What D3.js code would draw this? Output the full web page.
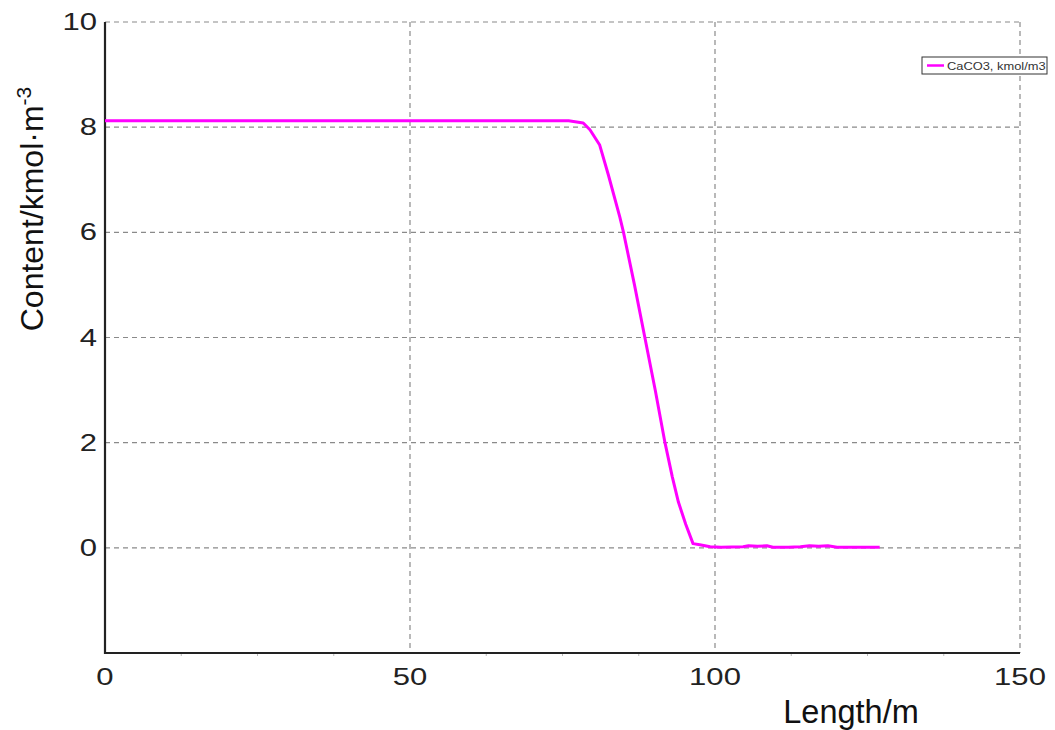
<!DOCTYPE html>
<html><head><meta charset="utf-8">
<script src="https://cdn.jsdelivr.net/npm/d3@7"></script>
<style>body{margin:0;background:#fff;}svg{display:block;font-family:Arial,"Liberation Sans",sans-serif;}</style>
</head><body><svg id="c" width="1055" height="730"></svg>
<script>
const xValues = [0, 10, 20, 30, 40, 50, 60, 70, 76, 78.4, 79.5, 81.1, 82.5, 84.4, 85, 86.8, 88.5, 90.2, 91.8, 93, 94, 95.2, 96.4, 97.5, 99.2, 101, 104.6, 105.5, 107, 108.5, 109.5, 112, 114, 115.5, 117, 118.5, 120, 124, 127];
const yValues = [8.12, 8.12, 8.12, 8.12, 8.12, 8.12, 8.12, 8.12, 8.12, 8.08, 7.95, 7.66, 7.1, 6.29, 6.0, 5.0, 4.0, 3.0, 2.0, 1.35, 0.87, 0.45, 0.08, 0.06, 0.02, 0.01, 0.02, 0.04, 0.03, 0.04, 0.01, 0.01, 0.02, 0.04, 0.03, 0.04, 0.01, 0.01, 0.01];
const xTicks = [0, 50, 100, 150];
const xMinorTicks = [12.5, 25, 37.5, 62.5, 75, 87.5, 112.5, 125, 137.5];
const yTicks = [0, 2, 4, 6, 8, 10];
const seriesName = "CaCO3, kmol/m3";

const svg = d3.select("#c");
const L = 105, R = 1020, T = 22, B = 653;
const x = d3.scaleLinear().domain([0, 150]).range([L, R]);
const y = d3.scaleLinear().domain([-2, 10]).range([B, T]);
const SX = 1.35;

// grid
svg.append("g").selectAll("line").data(yTicks).join("line")
  .attr("x1", L).attr("x2", R).attr("y1", d => y(d)).attr("y2", d => y(d))
  .attr("stroke", "#8a8a8a").attr("stroke-width", 1.2).attr("stroke-dasharray", "5,4");
svg.append("g").selectAll("line").data(xTicks.filter(d => d > 0)).join("line")
  .attr("x1", d => x(d)).attr("x2", d => x(d)).attr("y1", T).attr("y2", B)
  .attr("stroke", "#8a8a8a").attr("stroke-width", 1.2).attr("stroke-dasharray", "5,4");

// minor ticks
svg.append("g").selectAll("line").data(xMinorTicks).join("line")
  .attr("x1", d => x(d)).attr("x2", d => x(d)).attr("y1", B).attr("y2", B + 3)
  .attr("stroke", "#bbb").attr("stroke-width", 1);

// axes lines
svg.append("line").attr("x1", L).attr("x2", L).attr("y1", T).attr("y2", B + 1)
  .attr("stroke", "#222").attr("stroke-width", 2.2);
svg.append("line").attr("x1", L - 1).attr("x2", R).attr("y1", B).attr("y2", B)
  .attr("stroke", "#222").attr("stroke-width", 2.2);

// tick labels (horizontally stretched as in reference)
svg.append("g").selectAll("text").data(yTicks).join("text")
  .attr("transform", d => `translate(${L - 8},${y(d) + 8}) scale(${SX},1)`)
  .attr("text-anchor", "end")
  .attr("font-size", 23).attr("fill", "#222").text(d => d);
svg.append("g").selectAll("text").data(xTicks).join("text")
  .attr("transform", d => `translate(${x(d)},${B + 32}) scale(${SX},1)`)
  .attr("text-anchor", "middle")
  .attr("font-size", 23).attr("fill", "#222").text(d => d);

// axis titles
svg.append("text").attr("x", 851).attr("y", 723).attr("text-anchor", "middle")
  .attr("font-size", 32.5).attr("fill", "#111").text("Length/m");
const yt = svg.append("text").attr("transform", "translate(43,209) rotate(-90)")
  .attr("text-anchor", "middle").attr("font-size", 32).attr("fill", "#111");
yt.append("tspan").text("Content/kmol·m");
yt.append("tspan").attr("font-size", 21).attr("dy", -12).text("-3");

// line
const line = d3.line().x((d, i) => x(xValues[i])).y(d => y(d));
svg.append("path").datum(yValues).attr("d", line).attr("fill", "none")
  .attr("stroke", "#ff00ff").attr("stroke-width", 3).attr("stroke-linejoin", "round");

// legend
const lg = svg.append("g").attr("transform", "translate(922,57)");
lg.append("rect").attr("width", 125).attr("height", 17).attr("fill", "#fff")
  .attr("stroke", "#333").attr("stroke-width", 1);
lg.append("line").attr("x1", 5).attr("x2", 22).attr("y1", 8.5).attr("y2", 8.5)
  .attr("stroke", "#ff00ff").attr("stroke-width", 2.5);
lg.append("text").attr("transform", "translate(25,12.8) scale(1.12,1)")
  .attr("font-size", 11.5).attr("fill", "#333").text(seriesName);
</script></body></html>
